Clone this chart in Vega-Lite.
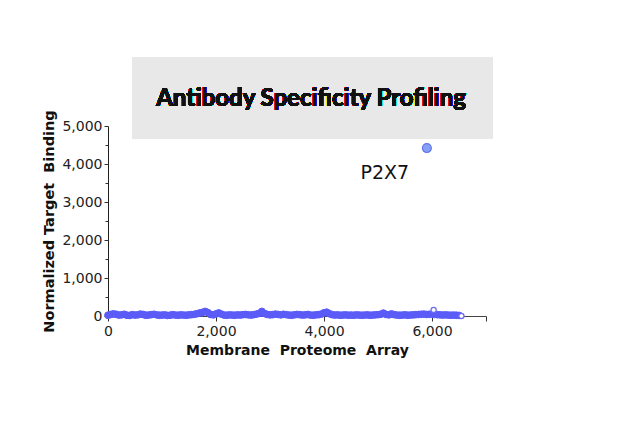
{
  "$schema": "https://vega.github.io/schema/vega-lite/v6.json",
  "autosize": "none",
  "width": 378,
  "height": 190,
  "padding": {"left": 108, "top": 126, "right": 154, "bottom": 111},
  "background": "white",
  "config": {"view": {"stroke": null}},
  "data": {"values": [
    {"index": 0, "binding": 20, "kind": "band"},
    {"index": 50, "binding": 40, "kind": "band"},
    {"index": 100, "binding": 55, "kind": "band"},
    {"index": 150, "binding": 45, "kind": "band"},
    {"index": 200, "binding": 25, "kind": "band"},
    {"index": 250, "binding": 30, "kind": "band"},
    {"index": 300, "binding": 45, "kind": "band"},
    {"index": 350, "binding": 20, "kind": "band"},
    {"index": 400, "binding": 15, "kind": "band"},
    {"index": 450, "binding": 35, "kind": "band"},
    {"index": 500, "binding": 25, "kind": "band"},
    {"index": 550, "binding": 30, "kind": "band"},
    {"index": 600, "binding": 50, "kind": "band"},
    {"index": 650, "binding": 40, "kind": "band"},
    {"index": 700, "binding": 20, "kind": "band"},
    {"index": 750, "binding": 25, "kind": "band"},
    {"index": 800, "binding": 35, "kind": "band"},
    {"index": 850, "binding": 45, "kind": "band"},
    {"index": 900, "binding": 30, "kind": "band"},
    {"index": 950, "binding": 20, "kind": "band"},
    {"index": 1000, "binding": 25, "kind": "band"},
    {"index": 1050, "binding": 30, "kind": "band"},
    {"index": 1100, "binding": 15, "kind": "band"},
    {"index": 1150, "binding": 20, "kind": "band"},
    {"index": 1200, "binding": 35, "kind": "band"},
    {"index": 1250, "binding": 25, "kind": "band"},
    {"index": 1300, "binding": 20, "kind": "band"},
    {"index": 1350, "binding": 30, "kind": "band"},
    {"index": 1400, "binding": 25, "kind": "band"},
    {"index": 1450, "binding": 20, "kind": "band"},
    {"index": 1500, "binding": 30, "kind": "band"},
    {"index": 1550, "binding": 35, "kind": "band"},
    {"index": 1600, "binding": 45, "kind": "band"},
    {"index": 1650, "binding": 60, "kind": "band"},
    {"index": 1700, "binding": 80, "kind": "band"},
    {"index": 1750, "binding": 95, "kind": "band"},
    {"index": 1800, "binding": 120, "kind": "band"},
    {"index": 1850, "binding": 90, "kind": "band"},
    {"index": 1900, "binding": 40, "kind": "band"},
    {"index": 1950, "binding": 30, "kind": "band"},
    {"index": 2000, "binding": 55, "kind": "band"},
    {"index": 2050, "binding": 80, "kind": "band"},
    {"index": 2100, "binding": 50, "kind": "band"},
    {"index": 2150, "binding": 25, "kind": "band"},
    {"index": 2200, "binding": 20, "kind": "band"},
    {"index": 2250, "binding": 30, "kind": "band"},
    {"index": 2300, "binding": 25, "kind": "band"},
    {"index": 2350, "binding": 20, "kind": "band"},
    {"index": 2400, "binding": 30, "kind": "band"},
    {"index": 2450, "binding": 25, "kind": "band"},
    {"index": 2500, "binding": 35, "kind": "band"},
    {"index": 2550, "binding": 40, "kind": "band"},
    {"index": 2600, "binding": 30, "kind": "band"},
    {"index": 2650, "binding": 25, "kind": "band"},
    {"index": 2700, "binding": 35, "kind": "band"},
    {"index": 2750, "binding": 50, "kind": "band"},
    {"index": 2800, "binding": 70, "kind": "band"},
    {"index": 2850, "binding": 120, "kind": "band"},
    {"index": 2900, "binding": 65, "kind": "band"},
    {"index": 2950, "binding": 40, "kind": "band"},
    {"index": 3000, "binding": 30, "kind": "band"},
    {"index": 3050, "binding": 35, "kind": "band"},
    {"index": 3100, "binding": 50, "kind": "band"},
    {"index": 3150, "binding": 40, "kind": "band"},
    {"index": 3200, "binding": 30, "kind": "band"},
    {"index": 3250, "binding": 45, "kind": "band"},
    {"index": 3300, "binding": 35, "kind": "band"},
    {"index": 3350, "binding": 25, "kind": "band"},
    {"index": 3400, "binding": 20, "kind": "band"},
    {"index": 3450, "binding": 30, "kind": "band"},
    {"index": 3500, "binding": 40, "kind": "band"},
    {"index": 3550, "binding": 35, "kind": "band"},
    {"index": 3600, "binding": 25, "kind": "band"},
    {"index": 3650, "binding": 30, "kind": "band"},
    {"index": 3700, "binding": 40, "kind": "band"},
    {"index": 3750, "binding": 25, "kind": "band"},
    {"index": 3800, "binding": 20, "kind": "band"},
    {"index": 3850, "binding": 30, "kind": "band"},
    {"index": 3900, "binding": 35, "kind": "band"},
    {"index": 3950, "binding": 50, "kind": "band"},
    {"index": 4000, "binding": 85, "kind": "band"},
    {"index": 4050, "binding": 100, "kind": "band"},
    {"index": 4100, "binding": 60, "kind": "band"},
    {"index": 4150, "binding": 35, "kind": "band"},
    {"index": 4200, "binding": 25, "kind": "band"},
    {"index": 4250, "binding": 30, "kind": "band"},
    {"index": 4300, "binding": 20, "kind": "band"},
    {"index": 4350, "binding": 25, "kind": "band"},
    {"index": 4400, "binding": 30, "kind": "band"},
    {"index": 4450, "binding": 20, "kind": "band"},
    {"index": 4500, "binding": 25, "kind": "band"},
    {"index": 4550, "binding": 20, "kind": "band"},
    {"index": 4600, "binding": 30, "kind": "band"},
    {"index": 4650, "binding": 25, "kind": "band"},
    {"index": 4700, "binding": 20, "kind": "band"},
    {"index": 4750, "binding": 25, "kind": "band"},
    {"index": 4800, "binding": 30, "kind": "band"},
    {"index": 4850, "binding": 20, "kind": "band"},
    {"index": 4900, "binding": 25, "kind": "band"},
    {"index": 4950, "binding": 30, "kind": "band"},
    {"index": 5000, "binding": 35, "kind": "band"},
    {"index": 5050, "binding": 45, "kind": "band"},
    {"index": 5100, "binding": 75, "kind": "band"},
    {"index": 5150, "binding": 40, "kind": "band"},
    {"index": 5200, "binding": 30, "kind": "band"},
    {"index": 5250, "binding": 55, "kind": "band"},
    {"index": 5300, "binding": 35, "kind": "band"},
    {"index": 5350, "binding": 25, "kind": "band"},
    {"index": 5400, "binding": 20, "kind": "band"},
    {"index": 5450, "binding": 25, "kind": "band"},
    {"index": 5500, "binding": 30, "kind": "band"},
    {"index": 5550, "binding": 20, "kind": "band"},
    {"index": 5600, "binding": 25, "kind": "band"},
    {"index": 5650, "binding": 30, "kind": "band"},
    {"index": 5700, "binding": 35, "kind": "band"},
    {"index": 5750, "binding": 40, "kind": "band"},
    {"index": 5800, "binding": 45, "kind": "band"},
    {"index": 5850, "binding": 50, "kind": "band"},
    {"index": 5900, "binding": 40, "kind": "band"},
    {"index": 5950, "binding": 45, "kind": "band"},
    {"index": 6000, "binding": 50, "kind": "band"},
    {"index": 6050, "binding": 40, "kind": "band"},
    {"index": 6100, "binding": 35, "kind": "band"},
    {"index": 6150, "binding": 30, "kind": "band"},
    {"index": 6200, "binding": 25, "kind": "band"},
    {"index": 6250, "binding": 30, "kind": "band"},
    {"index": 6300, "binding": 25, "kind": "band"},
    {"index": 6350, "binding": 20, "kind": "band"},
    {"index": 6400, "binding": 25, "kind": "band"},
    {"index": 6450, "binding": 20, "kind": "band"},
    {"index": 6500, "binding": 15, "kind": "band"},
    {"index": 6030, "binding": 160, "kind": "hollow"},
    {"index": 6545, "binding": 0, "kind": "hollow"},
    {"index": 5905, "binding": 4420, "kind": "hit", "target": "P2X7"}
  ]},
  "encoding": {
    "x": {
      "field": "index", "type": "quantitative",
      "scale": {"domain": [0, 7000], "nice": false, "zero": false},
      "axis": {
        "title": "Membrane\u00a0\u00a0Proteome\u00a0\u00a0Array",
        "values": [0, 2000, 4000, 6000, 7000],
        "tickCount": 50,
        "labelExpr": "datum.value === 7000 ? '' : format(datum.value, ',')",
        "labelOverlap": false,
        "labelFlush": false,
        "grid": false,
        "domainColor": "#444",
        "tickColor": "#333",
        "tickSize": 5,
        "labelFont": "DejaVu Sans",
        "labelFontSize": 14,
        "labelColor": "#222",
        "labelPadding": 3,
        "titleFont": "DejaVu Sans",
        "titleFontSize": 14,
        "titleFontWeight": "bold",
        "titleColor": "#111",
        "titlePadding": 5
      }
    },
    "y": {
      "field": "binding", "type": "quantitative",
      "scale": {"domain": [0, 5000], "nice": false},
      "axis": {
        "title": "Normalized\u00a0Target\u00a0\u00a0Binding",
        "values": [0, 500, 1000, 1500, 2000, 2500, 3000, 3500, 4000, 4500, 5000],
        "tickCount": 50,
        "labelExpr": "datum.value % 1000 === 0 ? format(datum.value, ',') : ''",
        "labelOverlap": false,
        "labelFlush": false,
        "grid": false,
        "domainColor": "#222",
        "tickColor": "#333",
        "tickSize": {"condition": {"test": "datum.value % 1000 === 0", "value": 4}, "value": 3},
        "labelFont": "DejaVu Sans",
        "labelFontSize": 14,
        "labelColor": "#222",
        "labelPadding": 2,
        "titleFont": "DejaVu Sans",
        "titleFontSize": 14.5,
        "titleFontWeight": "bold",
        "titleColor": "#111",
        "titlePadding": 5
      }
    }
  },
  "layer": [
    {
      "mark": {"type": "rect", "color": "#e8e8e8"},
      "encoding": {
        "x": {"datum": 444},
        "x2": {"datum": 7130},
        "y": {"datum": 4658},
        "y2": {"datum": 6816}
      }
    },
    {
      "mark": {"type": "text", "text": "Antibody Specificity Profiling", "font": "Lato", "fontWeight": "bold", "fontSize": 24, "color": "#111", "align": "center", "baseline": "middle"},
      "encoding": {
        "x": {"datum": 3760},
        "y": {"datum": 5700}
      }
    },
    {
      "transform": [{"filter": "datum.kind === 'band'"}],
      "mark": {"type": "point", "shape": "circle", "filled": true, "size": 46, "color": "#5b5bf7", "opacity": 1, "stroke": "#5b5bf7", "strokeWidth": 1}
    },
    {
      "transform": [{"filter": "datum.kind === 'hollow'"}],
      "mark": {"type": "point", "shape": "circle", "filled": false, "size": 26, "fill": "#ffffff", "stroke": "#6a6af5", "strokeWidth": 1.3, "opacity": 1}
    },
    {
      "transform": [{"filter": "datum.kind === 'hit'"}],
      "mark": {"type": "point", "shape": "circle", "filled": true, "size": 80, "fill": "#87a0f7", "stroke": "#5f78ea", "strokeWidth": 1.2, "opacity": 1}
    },
    {
      "transform": [{"filter": "datum.target != null"}],
      "mark": {"type": "text", "font": "DejaVu Sans", "fontSize": 19, "color": "#111", "dx": -42, "dy": 25, "align": "center", "baseline": "middle"},
      "encoding": {
        "text": {"field": "target"}
      }
    }
  ]
}
